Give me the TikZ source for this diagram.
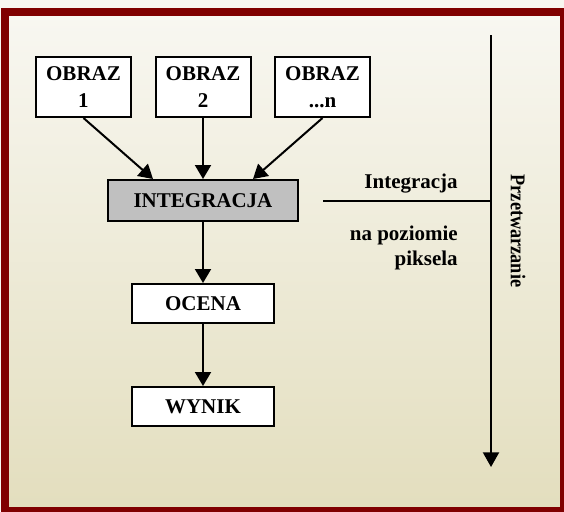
\documentclass[tikz,border=0pt]{standalone}
\usepackage{fontspec}
\setmainfont{Liberation Serif}
\usetikzlibrary{arrows.meta}
\definecolor{framered}{HTML}{800000}
\definecolor{bgtop}{HTML}{F8F7F1}
\definecolor{bgbot}{HTML}{E3DEBE}
\definecolor{boxgray}{HTML}{C0C0C0}
\tikzset{
  box/.style={draw=black, line width=1.5pt, fill=white, inner sep=0pt,
    font=\fontsize{15.75}{20}\selectfont\bfseries, align=center},
  conn/.style={line width=1.5pt, -{Triangle[length=10.5pt,width=12pt]}},
  lbl/.style={inner sep=0pt, font=\fontsize{15.75}{18.75}\selectfont\bfseries, align=right}
}
\begin{document}
\begin{tikzpicture}[x=0.75pt,y=-0.75pt]
\useasboundingbox (0,0) rectangle (564,511);
\fill[bgtop] (0,0) rectangle (564,511);
\shade[top color=bgtop, bottom color=bgbot] (9,16) rectangle (560,507);
\draw[framered, line width=6pt] (5,12) rectangle (564,511);

\node[box, minimum width=71.25pt, minimum height=45pt] (o1) at (83.5,87) {OBRAZ\\1};
\node[box, minimum width=71.25pt, minimum height=45pt] (o2) at (203,87) {OBRAZ\\2};
\node[box, minimum width=71.25pt, minimum height=45pt] (o3) at (322.5,87) {OBRAZ\\...n};

\node[box, fill=boxgray, minimum width=142.5pt, minimum height=30.75pt] (integ) at (203,200.5) {INTEGRACJA};
\node[box, minimum width=106.5pt, minimum height=29.25pt] (ocena) at (203,303.5) {OCENA};
\node[box, minimum width=106.5pt, minimum height=29.25pt] (wynik) at (203,406.5) {WYNIK};

\coordinate (t1) at (153,179);
\coordinate (t3) at (253,179);
\draw[conn] (o1.south) -- (t1);
\draw[conn] (o2.south) -- (integ.north);
\draw[conn] (o3.south) -- (t3);
\draw[conn] (integ.south) -- (ocena.north);
\draw[conn] (ocena.south) -- (wynik.north);

\coordinate (vtop) at (491,35);
\coordinate (vbot) at (491,467);
\coordinate (hl) at (323,201);
\coordinate (hr) at (491,201);
\draw[line width=1.5pt, -{Triangle[length=11pt,width=12pt]}] (vtop) -- (vbot);
\draw[line width=1.5pt] (hl) -- (hr);

\node[lbl, anchor=base east] (lint) at (458,188) {Integracja};
\node[lbl, anchor=base east] (lnap) at (458,240) {na poziomie};
\node[lbl, anchor=base east] (lpik) at (458,265) {piksela};
\node[lbl, rotate=-90] (lprz) at (518,231) {\scalebox{0.87}[1]{Przetwarzanie}};
\end{tikzpicture}
\end{document}
